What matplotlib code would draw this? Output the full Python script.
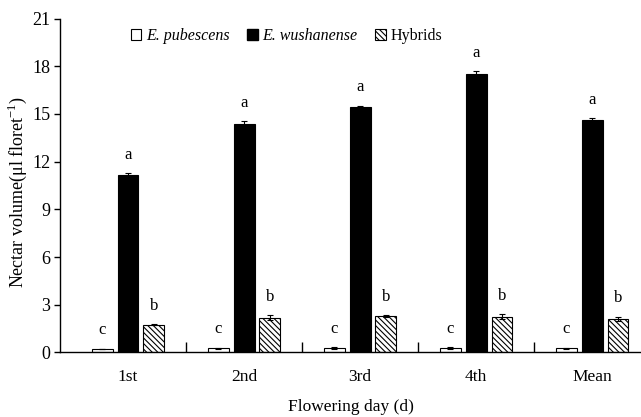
import numpy as np
import matplotlib.pyplot as plt
from matplotlib.patches import Patch

plt.rcParams['font.family'] = ['Liberation Serif', 'DejaVu Serif']
plt.rcParams['mathtext.fontset'] = 'custom'
plt.rcParams['mathtext.rm'] = 'Liberation Serif'
plt.rcParams['hatch.linewidth'] = 0.8

# data
days = ['1st', '2nd', '3rd', '4th', 'Mean']
pubescens = [0.22, 0.28, 0.3, 0.3, 0.28]
pubescens_err = [0.03, 0.03, 0.05, 0.05, 0.03]
wushanense = [11.15, 14.35, 15.45, 17.5, 14.6]
wushanense_err = [0.15, 0.2, 0.08, 0.2, 0.12]
hybrids = [1.75, 2.2, 2.3, 2.25, 2.1]
hybrids_err = [0.05, 0.15, 0.05, 0.15, 0.15]
letters_pub = ['c', 'c', 'c', 'c', 'c']
letters_wus = ['a', 'a', 'a', 'a', 'a']
letters_hyb = ['b', 'b', 'b', 'b', 'b']

x = np.arange(len(days))
w = 0.18
off = 0.222

fig = plt.figure(figsize=(6.41, 4.17), dpi=100)
ax = fig.add_axes([0.0936, 0.1547, 0.9064, 0.8007])

ekw = dict(ecolor='black', capsize=2.5, error_kw=dict(elinewidth=0.8, capthick=0.8))
ax.bar(x - off, pubescens, w, yerr=pubescens_err, color='white', edgecolor='black', linewidth=0.8, **ekw)
ax.bar(x, wushanense, w, yerr=wushanense_err, color='black', edgecolor='black', linewidth=0.8, **ekw)
ax.bar(x + off, hybrids, w, yerr=hybrids_err, color='white', edgecolor='black', hatch='\\\\\\\\\\\\', linewidth=0.8, **ekw)

for i in range(len(days)):
    ax.text(x[i] - off, pubescens[i] + pubescens_err[i] + 1.15, letters_pub[i], ha='center', va='center', fontsize=12)
    ax.text(x[i], wushanense[i] + wushanense_err[i] + 1.15, letters_wus[i], ha='center', va='center', fontsize=12)
    ax.text(x[i] + off, hybrids[i] + hybrids_err[i] + 1.15, letters_hyb[i], ha='center', va='center', fontsize=12)

ax.set_xlim(-0.586, 4.42)
ax.set_ylim(0, 21)
ax.set_yticks(np.arange(0, 22, 3))
ax.set_xticks(x)
ax.set_xticklabels(days)
ax.set_xticks(x[:-1] + 0.5, minor=True)
ax.tick_params(axis='x', which='major', length=0, pad=12, labelsize=12.5)
ax.tick_params(axis='x', which='minor', direction='in', length=7, width=1)
ax.tick_params(axis='y', direction='out', length=4, width=1, labelsize=13, pad=3)
for s in ['top', 'right']:
    ax.spines[s].set_visible(False)
for s in ['left', 'bottom']:
    ax.spines[s].set_linewidth(1)

ax.set_xlabel('Flowering day (d)', fontsize=12.5, labelpad=10)
ax.set_ylabel('Nectar volume(\u03bcl floret$^{-1}$)', fontsize=13)
ax.yaxis.set_label_coords(-0.054, 0.48)

handles = [Patch(facecolor='white', edgecolor='black', linewidth=0.8),
           Patch(facecolor='black', edgecolor='black'),
           Patch(facecolor='white', edgecolor='black', hatch='\\\\\\\\\\\\', linewidth=0.8)]
leg = ax.legend(handles, ['E. pubescens', 'E. wushanense', 'Hybrids'], loc='center',
                bbox_to_anchor=(0.39, 0.948), ncol=3, frameon=False, fontsize=11.5,
                handlelength=0.65, handleheight=0.75, handletextpad=0.3, columnspacing=1.1,
                borderpad=0)
for t in leg.get_texts()[:2]:
    t.set_style('italic')

fig.savefig('out.png', dpi=100)
